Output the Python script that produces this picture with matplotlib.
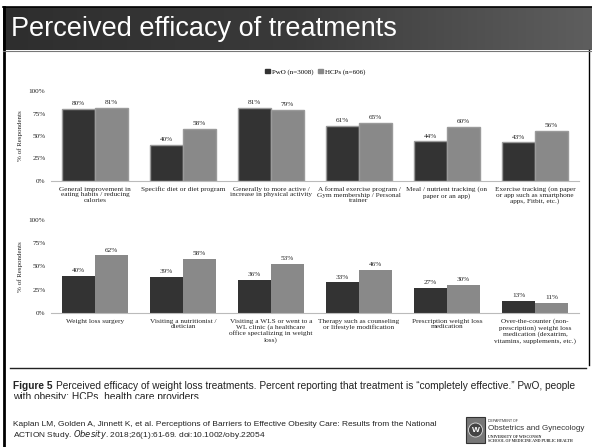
import matplotlib
matplotlib.use("Agg")
import matplotlib.pyplot as plt
import numpy as np
from matplotlib.patches import Rectangle, Circle

W, H = 592, 447

# ---------------- data ----------------
top_categories = [
    "General improvement in\neating habits / reducing\ncalories",
    "Specific diet or diet program",
    "Generally to more active /\nincrease in physical activity",
    "A formal exercise program /\nGym membership / Personal\ntrainer",
    "Meal / nutrient tracking (on\npaper or an app)",
    "Exercise tracking (on paper\nor app such as smartphone\napps, Fitbit, etc.)",
]
top_pwo = [80, 40, 81, 61, 44, 43]
top_hcp = [81, 58, 79, 65, 60, 56]

bot_categories = [
    "Weight loss surgery",
    "Visiting a nutritionist /\ndietician",
    "Visiting a WLS or went to a\nWL clinic (a healthcare\noffice specializing in weight\nloss)",
    "Therapy such as counseling\nor lifestyle modification",
    "Prescription weight loss\nmedication",
    "Over-the-counter (non-\nprescription) weight loss\nmedication (dexatrim,\nvitamins, supplements, etc.)",
]
bot_pwo = [40, 39, 36, 33, 27, 13]
bot_hcp = [62, 58, 53, 46, 30, 11]

yticks = [0, 25, 50, 75, 100]
ytick_labels = ["0%", "25%", "50%", "75%", "100%"]
legend_labels = ["PwO (n=3008)", "HCPs (n=606)"]

DARK = "#333333"
LIGHT = "#898989"
SERIF = ["Liberation Serif", "DejaVu Serif"]
SANS = ["Liberation Sans", "DejaVu Sans"]

fig = plt.figure(figsize=(W / 100, H / 100), dpi=100)
fig.patch.set_facecolor("white")


def fx(px):
    return px / W


def fy(py):
    return 1 - py / H


# ---------------- background / title bar ----------------
bg = fig.add_axes([0, 0, 1, 1], zorder=-10)
bg.set_xlim(0, W)
bg.set_ylim(H, 0)
bg.axis("off")
grad = np.linspace(0, 1, 256).reshape(1, -1)
bg.imshow(grad, extent=[3, W, 50, 7], cmap=matplotlib.colors.LinearSegmentedColormap.from_list(
    "g", ["#2e2e2e", "#3a3a3a", "#5e5e5e"]), aspect="auto", zorder=1)
bg.plot([3, W], [7, 7], color="black", lw=1.2, zorder=2)
bg.plot([3.5, 3.5], [7, H], color="black", lw=2, zorder=2)
bg.plot([588.5, 588.5], [50, 365], color="black", lw=1, zorder=2)
bg.plot([3, W], [50.5, 50.5], color="#777777", lw=0.8, zorder=2)
bg.text(11, 29, "Perceived efficacy of treatments", color="white",
        fontsize=19.5, family=SANS, va="center", ha="left", zorder=3)

# separator line
bg.plot([10, 586], [368, 368], color="#222222", lw=1, zorder=2)

# caption
fig_lbl = bg.text(13, 386, "Figure 5", fontsize=7.3, family=SANS, weight="bold",
                  color="#222222", va="center", ha="left")
renderer = fig.canvas.get_renderer()
ext = fig_lbl.get_window_extent(renderer=renderer)
x_after = ext.x1 + 3  # pixels (dpi=100, same as data units here)
bg.text(x_after, 386, "Perceived efficacy of weight loss treatments. Percent reporting that "
        "treatment is \u201ccompletely effective.\u201d PwO, people",
        fontsize=7.3, family=SANS, color="#222222", va="center", ha="left")
bg.text(13, 397, "with obesity; HCPs, health care providers.", fontsize=7.3, family=SANS,
        color="#222222", va="center", ha="left", zorder=3)
bg.add_patch(Rectangle((8, 399), 580, 8, facecolor="white", edgecolor="none", zorder=4))

# citation
bg.text(13, 425, "Kaplan LM, Golden A, Jinnett K, et al. Perceptions of Barriers to Effective "
        "Obesity Care: Results from the National", fontsize=6.0, family=SANS,
        color="#222222", va="center", ha="left")
bg.text(13, 434.5, "ACTION Study. $\\it{Obesity}$. 2018;26(1):61-69. doi:10.1002/oby.22054",
        fontsize=6.0, family=SANS, color="#222222", va="center", ha="left")

# logo
bg.add_patch(Rectangle((466, 417), 19, 26, facecolor="#777777", edgecolor="#333333", lw=0.8,
                       zorder=3))
bg.add_patch(Circle((475.5, 430), 7, facecolor="#444444", edgecolor="#dddddd", lw=0.6, zorder=4))
bg.text(475.5, 430.5, "W", fontsize=6, color="white", family=SANS, weight="bold",
        ha="center", va="center", zorder=5)
bg.text(488, 421, "DEPARTMENT OF", fontsize=2.6, family=SANS, color="#333333",
        va="center", ha="left")
bg.text(488, 428.5, "Obstetrics and Gynecology", fontsize=5.8, family=SANS,
        color="#333333", va="center", ha="left")
bg.text(488, 436.5, "UNIVERSITY OF WISCONSIN", fontsize=2.8, family=SERIF, weight="bold",
        color="#333333", va="center", ha="left")
bg.text(488, 441.5, "SCHOOL OF MEDICINE AND PUBLIC HEALTH", fontsize=2.8, family=SERIF,
        weight="bold", color="#333333", va="center", ha="left")


# ---------------- charts ----------------
def make_chart(rect, cats, pwo, hcp, top_style=False):
    ax = fig.add_axes(rect)
    x = np.arange(len(cats))
    w = 0.375
    ec = "#9a9a9a" if top_style else "none"
    lw = 1.0 if top_style else 0
    b1 = ax.bar(x - w / 2, pwo, w, color=DARK, edgecolor=ec, linewidth=lw,
                label=legend_labels[0])
    b2 = ax.bar(x + w / 2, hcp, w, color=LIGHT, edgecolor=ec, linewidth=lw,
                label=legend_labels[1])
    for bars, vals in ((b1, pwo), (b2, hcp)):
        for r, v in zip(bars, vals):
            ax.text(r.get_x() + r.get_width() / 2, v + 3, f"{v}%", ha="center", va="bottom",
                    fontsize=5.2, family=SERIF, color="#222222")
    ax.set_xlim(-0.5, len(cats) - 0.5)
    ax.set_ylim(0, 100)
    ax.set_yticks(yticks)
    ax.set_yticklabels(ytick_labels, fontsize=5.2, family=SERIF, color="#222222")
    ax.set_xticks(x)
    ax.set_xticklabels(cats, fontsize=5.2, family=SERIF, color="#222222", linespacing=1.15)
    ax.tick_params(axis="both", length=0, pad=4)
    for s in ("top", "right", "left"):
        ax.spines[s].set_visible(False)
    ax.spines["bottom"].set_color("#bbbbbb")
    ax.spines["bottom"].set_linewidth(0.8)
    ax.set_ylabel("% of Respondents", fontsize=5, family=SERIF, color="#222222", labelpad=4)
    ax.patch.set_alpha(0)
    return ax


ax_top = make_chart([fx(51), fy(181), fx(528), 90 / H], top_categories, top_pwo, top_hcp,
                    top_style=True)
ax_bot = make_chart([fx(51), fy(313), fx(528), 93 / H], bot_categories, bot_pwo, bot_hcp)

handles = [Rectangle((0, 0), 1, 1, color=DARK), Rectangle((0, 0), 1, 1, color=LIGHT)]
ax_top.legend(handles, legend_labels, loc="lower center", bbox_to_anchor=(0.5, 1.15), ncol=2,
              frameon=False, prop={"family": SERIF, "size": 5}, handlelength=0.7,
              handleheight=0.7, handletextpad=0.3, columnspacing=0.6, borderaxespad=0)

fig.savefig("out.png", dpi=100, facecolor="white")
